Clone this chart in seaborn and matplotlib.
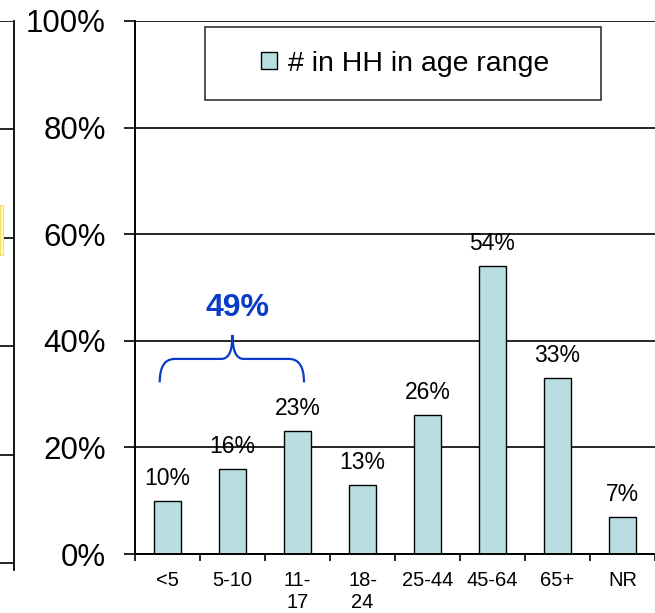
import numpy as np
import pandas as pd
import seaborn as sns
import matplotlib
matplotlib.use('Agg')
from matplotlib import pyplot as plt
from matplotlib.path import Path
from matplotlib.patches import PathPatch, Rectangle

# veriler
age_groups = ["<5", "5-10", "11-\n17", "18-\n24", "25-44", "45-64", "65+", "NR"]
pct_in_hh = [10, 16, 23, 13, 26, 54, 33, 7]
series_name = "# in HH in age range"
y_ticks = [0, 20, 40, 60, 80, 100]

bar_color = "#B9DEE1"
blue = "#0A3CC8"

sns.set_theme(style="white")
plt.rcParams['font.family'] = ['Liberation Sans', 'DejaVu Sans']
plt.rcParams['text.color'] = "black"
plt.rcParams['xtick.color'] = "black"
plt.rcParams['ytick.color'] = "black"

df = pd.DataFrame({"age": age_groups, "pct": pct_in_hh})

fig = plt.figure(figsize=(6.55, 6.13), dpi=100)

# kesilmis komsu grafigin sag kenari
ax_left = fig.add_axes([-0.3, 0.0701, 0.3214, 0.8956])
ax_left.set_ylim(-1.29, 100)
ax_left.set_xlim(0, 1)
for yv in y_ticks:
    ax_left.axhline(yv, color="black", lw=1.2)
for s in ["top", "left", "bottom"]:
    ax_left.spines[s].set_visible(False)
ax_left.spines["right"].set_color("black")
ax_left.spines["right"].set_linewidth(1.3)
ax_left.set_xticks([])
ax_left.set_yticks([])
fig.patches.append(Rectangle((0, 1 - 255 / 613), 2.5 / 655, 50 / 613, transform=fig.transFigure,
                             facecolor="#FFFBC8", edgecolor="#F0E060", lw=0.8))

# ana grafik
ax = fig.add_axes([135 / 655, 59 / 613, 1 - 135 / 655, 533 / 613])
sns.barplot(data=df, x="age", y="pct", color=bar_color, edgecolor="black", linewidth=1.0,
            width=0.43, saturation=1, label=series_name, ax=ax)

ax.set_xlim(-0.5, len(age_groups) - 0.57)
ax.set_ylim(0, 100)
ax.set_yticks(y_ticks)
ax.set_yticklabels([f"{v}%" for v in y_ticks], fontsize=22.5)
ax.yaxis.grid(True, color="black", lw=1.2)
ax.set_axisbelow(True)
ax.tick_params(axis="y", left=True, length=8, width=1.2, pad=13, color="black")
ax.set_xticks(range(len(age_groups)))
ax.set_xticklabels(age_groups, fontsize=14.5)
ax.set_xticks(np.arange(-0.5, len(age_groups), 1), minor=True)
ax.tick_params(axis="x", which="major", length=0, pad=12)
ax.tick_params(axis="x", which="minor", bottom=True, length=5, width=1.2, color="black")
ax.set_xlabel("")
ax.set_ylabel("")
for s in ["left", "bottom"]:
    ax.spines[s].set_color("black")
    ax.spines[s].set_linewidth(1.4)
ax.spines["top"].set_visible(False)
ax.spines["right"].set_visible(False)

ax.bar_label(ax.containers[0], labels=[f"{v}%" for v in pct_in_hh], padding=8, fontsize=16.5)

# lejant
leg = ax.legend(loc="center", bbox_to_anchor=(0.52, 0.92), fontsize=20.5, frameon=False,
                handlelength=0.56, handleheight=0.56, handletextpad=0.4)
for h in leg.legend_handles:
    h.set_edgecolor("black")
    h.set_linewidth(1.0)
ax.add_patch(Rectangle(((205 - 135) / 520, (554 - 100) / 533), 396 / 520, 73 / 533,
                       transform=ax.transAxes, fill=False, edgecolor="#333333", lw=1.2,
                       clip_on=False, zorder=5))

# 49% parantezi (ilk uc grup)
total = sum(pct_in_hh[:3])
x0, x1, xc = -0.12, 2.1, 1.0
y_arm, y_h, y_pk = 32.2, 36.6, 41.1
rx, cx = 0.23, 0.17
verts = [(x0, y_arm), (x0, y_h), (x0 + rx, y_h),
         (xc - cx, y_h),
         (xc, y_h), (xc, y_pk),
         (xc, y_h), (xc + cx, y_h),
         (x1 - rx, y_h),
         (x1, y_h), (x1, y_arm)]
codes = [Path.MOVETO, Path.CURVE3, Path.CURVE3,
         Path.LINETO,
         Path.CURVE3, Path.CURVE3,
         Path.CURVE3, Path.CURVE3,
         Path.LINETO,
         Path.CURVE3, Path.CURVE3]
ax.add_patch(PathPatch(Path(verts, codes), fill=False, edgecolor=blue, lw=1.6, zorder=4))
ax.text(xc + 0.07, 46.2, f"{total}%", color=blue, fontsize=23, fontweight="bold",
        ha="center", va="center")

plt.savefig("out.png", dpi=100)
